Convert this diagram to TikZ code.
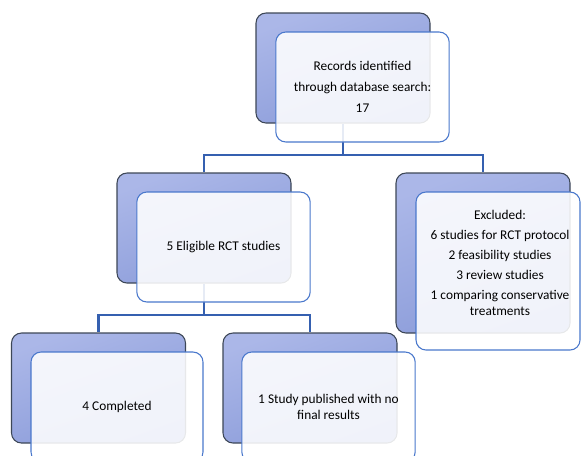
\documentclass[tikz,border=0pt]{standalone}
\usepackage{fontspec}
\setmainfont{Carlito}
\definecolor{backtop}{HTML}{ABB7E8}
\definecolor{backbot}{HTML}{8A9BD9}
\definecolor{backline}{HTML}{3D4757}
\definecolor{frontline}{HTML}{4A78CC}
\definecolor{conn}{HTML}{3560B0}
\tikzset{
  backbox/.style={draw=backline, line width=0.8pt, rounded corners=7.5pt,
    top color=backtop, bottom color=backbot, shading angle=20,
    minimum width=130.5pt, minimum height=82.5pt, inner sep=0pt},
  frontbox/.style={draw=frontline, line width=0.8pt, rounded corners=7.5pt,
    fill=white, fill opacity=0.88, text opacity=1,
    minimum width=130pt, minimum height=82.5pt, inner sep=0pt, align=center,
    font=\fontsize{10pt}{12pt}\selectfont},
  connector/.style={draw=conn, line width=1.8pt}
}
\begin{document}
\begin{tikzpicture}[x=0.75pt, y=-0.75pt]
\useasboundingbox (0,0) rectangle (581,455);
% back boxes
\node[backbox] (topb) at (343,68) {};
\node[backbox] (midb) at (204,228) {};
\node[backbox, minimum height=120pt] (exb) at (483,253) {};
\node[backbox] (compb) at (98.5,388) {};
\node[backbox] (pubb) at (310,388) {};
% connectors
\coordinate (j1) at (343,155);
\coordinate (j2) at (204,315);
\draw[connector] (topb.south) -- (j1);
\draw[connector] (j1) -| (midb.north);
\draw[connector] (j1) -| (exb.north);
\draw[connector] (midb.south) -- (j2);
\draw[connector] (j2) -| (compb.north);
\draw[connector] (j2) -| (pubb.north);
% front boxes
\node[frontbox] (topf) at (362.5,87) {Records identified\\[3.5pt]through database search:\\[3.5pt]17};
\node[frontbox] (midf) at (223.5,247) {5 Eligible RCT studies};
\node[frontbox, minimum width=123pt, minimum height=118.5pt] (exf) at (498,271) {};
\node[align=center, font=\fontsize{10pt}{12pt}\selectfont, inner sep=0pt] (ext) at (500,263)
  {Excluded:\\[3pt]6 studies for RCT protocol\\[3pt]2 feasibility studies\\[3pt]3 review studies\\[3pt]1 comparing conservative\\treatments};
\node[frontbox, minimum width=129pt] (compf) at (117,407) {4 Completed};
\node[frontbox] (pubf) at (328.5,407) {1 Study published with no\\final results};
\end{tikzpicture}
\end{document}
